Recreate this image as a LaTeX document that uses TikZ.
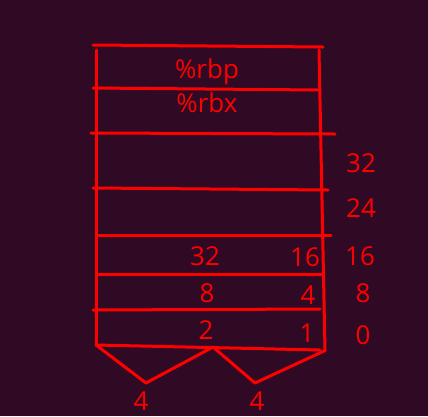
\documentclass[tikz,border=0pt]{standalone}
\usepackage{fontspec}
\setmainfont{Open Sans}
\definecolor{bgpurple}{HTML}{300A24}
\definecolor{inkred}{HTML}{FF0000}
\begin{document}
\begin{tikzpicture}[x=1pt,y=-1pt,
  rule/.style={draw=inkred,line width=3pt,line cap=round,line join=round},
  lbl/.style={text=inkred,font=\fontsize{26}{28}\selectfont,inner sep=0pt}]
\fill[bgpurple] (0,0) rectangle (428,416);
\useasboundingbox (0,0) rectangle (428,416);
% frame
\draw[rule] (93,45) -- (323,47);
\draw[rule] (96,50) -- (96,345);
\draw[rule] (319,50) -- (325,351);
\draw[rule] (93,88) -- (319,90);
\draw[rule] (91,133) -- (335,134);
\draw[rule] (93,188) -- (328,190);
\draw[rule] (96,235) -- (331,235);
\draw[rule] (97,274) -- (322,274);
\draw[rule] (93,310) -- (320,309);
\draw[rule] (96,345) -- (320,350);
% zigzag
\coordinate (z0) at (96,345);
\coordinate (z1) at (146,383);
\coordinate (z2) at (213,347);
\coordinate (z3) at (255,383);
\coordinate (z4) at (324,351);
\draw[rule] (z0) -- (z1) -- (z2) -- (z3) -- (z4);
% labels
\node[lbl] (rbp) at (207,72) {\%rbp};
\node[lbl] (rbx) at (207,103) {\%rbx};
\node[lbl] (r32) at (361,163) {32};
\node[lbl] (r24) at (361,208) {24};
\node[lbl] (r16) at (360,256) {16};
\node[lbl] (r8) at (363,293) {8};
\node[lbl] (r0) at (363,335) {0};
\node[lbl] (a32) at (205,256) {32};
\node[lbl] (a16) at (305,257) {16};
\node[lbl] (a8) at (207,293) {8};
\node[lbl] (a4) at (308,295) {4};
\node[lbl] (a2) at (206,330) {2};
\node[lbl] (a1) at (307,333) {1};
\node[lbl] (b4a) at (141,401) {4};
\node[lbl] (b4b) at (257,401) {4};
\end{tikzpicture}
\end{document}
